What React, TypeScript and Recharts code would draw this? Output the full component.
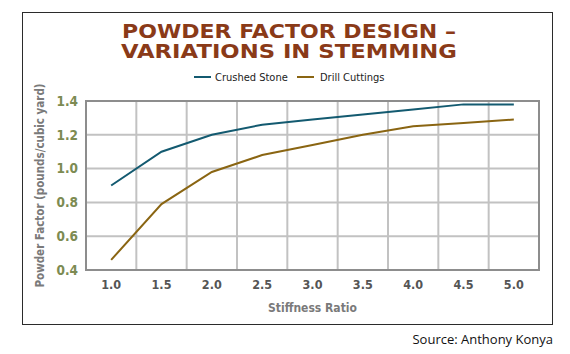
import React from "react";
import {
  LineChart,
  CartesianGrid,
  XAxis,
  YAxis,
  Line,
  ReferenceArea,
} from "recharts";

const stiffnessRatio = [1.0, 1.5, 2.0, 2.5, 3.0, 3.5, 4.0, 4.5, 5.0];
const crushedStone = [0.9, 1.1, 1.2, 1.26, 1.29, 1.32, 1.35, 1.38, 1.38];
const drillCuttings = [0.46, 0.79, 0.98, 1.08, 1.14, 1.2, 1.25, 1.27, 1.29];

const xTicks = [1.0, 1.5, 2.0, 2.5, 3.0, 3.5, 4.0, 4.5, 5.0];
const yTicks = [0.4, 0.6, 0.8, 1.0, 1.2, 1.4];
// grid columns sit between the categories
const gridX = [0.75, 1.25, 1.75, 2.25, 2.75, 3.25, 3.75, 4.25, 4.75, 5.25];

const data = stiffnessRatio.map((x, i) => ({
  x,
  crushed: crushedStone[i],
  drill: drillCuttings[i],
}));

const CRUSHED = "#135a70";
const DRILL = "#8a6512";
const COND = '"DejaVu Sans Condensed", "DejaVu Sans", sans-serif';

const App: React.FC = () => {
  return (
    <div
      style={{
        position: "absolute",
        left: 0,
        top: 0,
        width: 570,
        height: 354,
        background: "#fff",
      }}
    >
      <div
        style={{
          position: "absolute",
          left: 22,
          top: 12,
          width: 529,
          height: 311,
          border: "1.5px solid #2b2b2b",
        }}
      />
      <LineChart
        width={570}
        height={354}
        data={data}
        margin={{ top: 101, right: 31, bottom: 40, left: 0 }}
        style={{ position: "absolute", left: 0, top: 0 }}
      >
        <XAxis
          xAxisId="grid"
          type="number"
          dataKey="x"
          domain={[0.75, 5.25]}
          ticks={gridX}
          hide
        />
        <CartesianGrid xAxisId="grid" stroke="#c2c2c2" strokeWidth={2} />
        <XAxis
          type="number"
          dataKey="x"
          domain={[0.75, 5.25]}
          ticks={xTicks}
          tickFormatter={(v: number) => v.toFixed(1)}
          axisLine={false}
          tickLine={false}
          tickMargin={4}
          height={44}
          tick={{ fill: "#555", fontSize: 12.5, fontWeight: "bold", fontFamily: COND }}
          label={{
            value: "Stiffness Ratio",
            position: "insideBottom",
            offset: 2,
            fill: "#7a7a7a",
            fontSize: 12,
            fontWeight: "bold",
            fontFamily: COND,
          }}
        />
        <YAxis
          domain={[0.4, 1.4]}
          ticks={yTicks}
          tickFormatter={(v: number) => v.toFixed(1)}
          axisLine={false}
          tickLine={false}
          width={86}
          tick={{ fill: "#7d8b52", fontSize: 13.5, fontWeight: "bold", fontFamily: COND }}
          label={{
            value: "Powder Factor (pounds/cubic yard)",
            angle: -90,
            position: "center",
            dx: -3,
            fill: "#7a7a7a",
            fontSize: 11.5,
            fontWeight: "bold",
            fontFamily: COND,
          }}
        />
        <ReferenceArea
          x1={0.75}
          x2={5.25}
          y1={0.4}
          y2={1.4}
          fill="none"
          stroke="#8d8d8d"
          strokeWidth={2}
          fillOpacity={0}
        />
        <Line
          dataKey="crushed"
          name="Crushed Stone"
          stroke={CRUSHED}
          strokeWidth={2}
          dot={false}
          type="linear"
          isAnimationActive={false}
        />
        <Line
          dataKey="drill"
          name="Drill Cuttings"
          stroke={DRILL}
          strokeWidth={2}
          dot={false}
          type="linear"
          isAnimationActive={false}
        />
      </LineChart>
      <svg
        width={570}
        height={100}
        style={{ position: "absolute", left: 0, top: 0 }}
      >
        <g
          fill="#8a3a18"
          fontFamily='"DejaVu Sans", sans-serif'
          fontWeight="bold"
          fontSize={19}
          textAnchor="middle"
        >
          <text x={289} y={38} textLength={334} lengthAdjust="spacingAndGlyphs">
            POWDER FACTOR DESIGN –
          </text>
          <text x={289} y={58} textLength={336} lengthAdjust="spacingAndGlyphs">
            VARIATIONS IN STEMMING
          </text>
        </g>
        <g fontFamily={COND} fontSize={11} fill="#222">
          <line x1={194} x2={211} y1={77} y2={77} stroke={CRUSHED} strokeWidth={2} />
          <text x={215} y={81}>Crushed Stone</text>
          <line x1={297} x2={314} y1={77} y2={77} stroke={DRILL} strokeWidth={2} />
          <text x={320} y={81}>Drill Cuttings</text>
        </g>
      </svg>
      <div
        style={{
          position: "absolute",
          right: 17,
          top: 330,
          fontFamily: '"Open Sans", sans-serif',
          fontSize: 13,
          color: "#111",
          whiteSpace: "nowrap",
        }}
      >
        Source: Anthony Konya
      </div>
    </div>
  );
};

export default App;
